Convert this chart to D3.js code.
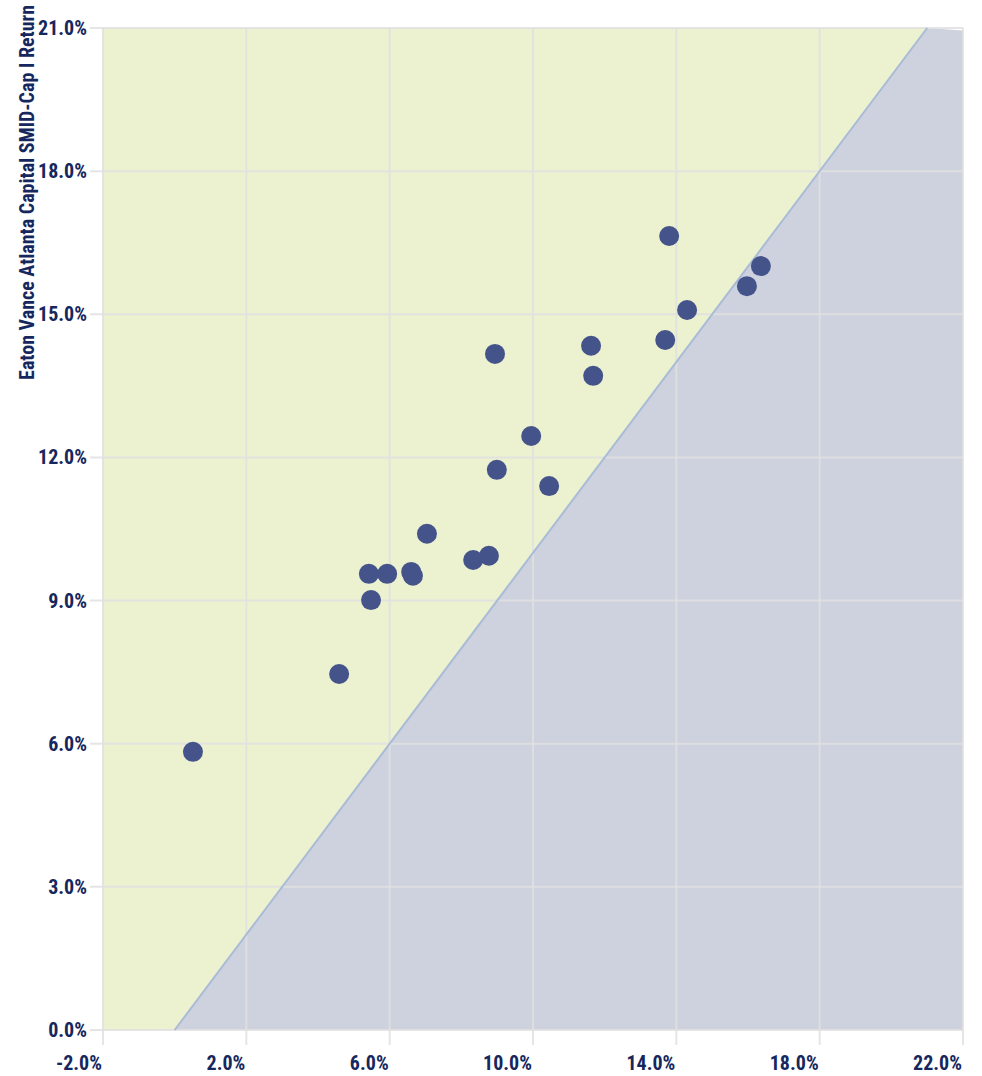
<!DOCTYPE html>
<html><head><meta charset="utf-8">
<script src="https://cdn.jsdelivr.net/npm/d3@7"></script>
<style>
html,body{margin:0;padding:0;background:#fff;}
text{font-family:"Roboto Condensed","Liberation Sans Narrow","DejaVu Sans Condensed",sans-serif;font-weight:bold;fill:#16275e;}
</style></head><body>
<svg id="c" width="982" height="1076"></svg>
<script>
const xTicks = [-2, 2, 6, 10, 14, 18, 22];
const yTicks = [0, 3, 6, 9, 12, 15, 18, 21];
const benchmarkReturn = [0.51, 4.59, 5.42, 5.48, 5.93, 6.60, 6.65, 7.04, 8.33, 8.77, 8.94, 8.99, 9.95, 10.45, 11.62, 11.68, 13.69, 13.80, 14.30, 15.97, 16.36];
const fundReturn = [5.83, 7.46, 9.56, 9.01, 9.56, 9.60, 9.52, 10.40, 9.85, 9.94, 14.17, 11.74, 12.45, 11.40, 14.34, 13.71, 14.46, 16.64, 15.09, 15.59, 16.01];
const yTitle = "Eaton Vance Atlanta Capital SMID-Cap I Return";

const L = 103, R = 963, T = 28, B = 1030;
const x = d3.scaleLinear().domain([-2, 22]).range([L, R]);
const y = d3.scaleLinear().domain([0, 21]).range([B, T]);
const svg = d3.select("#c");

// regions
const line = d3.line().x(d => x(d[0])).y(d => y(d[1]));
svg.append("path").attr("d", line([[-2,0],[-2,21],[21,21],[0,0]]) + "Z").attr("fill", "#ecf1d0");
svg.append("path").attr("d", line([[0,0],[21,21],[22,20.95],[22,0]]) + "Z").attr("fill", "#cdd2de");

// grid
const gridColor = "#e0e0e0";
svg.append("g").selectAll("line").data(yTicks).join("line")
  .attr("x1", L - 13).attr("x2", R).attr("y1", d => y(d)).attr("y2", d => y(d))
  .attr("stroke", gridColor).attr("stroke-width", 2).attr("stroke-opacity", 0.85);
svg.append("g").selectAll("line").data(xTicks).join("line")
  .attr("x1", d => x(d)).attr("x2", d => x(d)).attr("y1", T).attr("y2", B + 15)
  .attr("stroke", gridColor).attr("stroke-width", 2).attr("stroke-opacity", 0.85);

// diagonal
svg.append("path").attr("d", line([[0,0],[21,21]])).attr("stroke", "#a9bbd6").attr("stroke-width", 2).attr("fill", "none");

// labels
svg.append("g").selectAll("text").data(yTicks).join("text")
  .attr("x", L - 16).attr("y", d => y(d) + 7).attr("text-anchor", "end")
  .attr("font-size", 20).text(d => d.toFixed(1) + "%");
svg.append("g").selectAll("text").data(xTicks).join("text")
  .attr("x", d => x(d) - 1).attr("y", B + 40).attr("text-anchor", "end")
  .attr("font-size", 20).text(d => d.toFixed(1) + "%");

svg.append("text").attr("transform", "translate(34,5) rotate(-90)")
  .attr("text-anchor", "end").attr("font-size", 20).text(yTitle);

// points
svg.append("g").selectAll("circle").data(benchmarkReturn.map((b, i) => [b, fundReturn[i]])).join("circle")
  .attr("cx", d => x(d[0])).attr("cy", d => y(d[1])).attr("r", 10).attr("fill", "#44548a");
</script>
</body></html>
